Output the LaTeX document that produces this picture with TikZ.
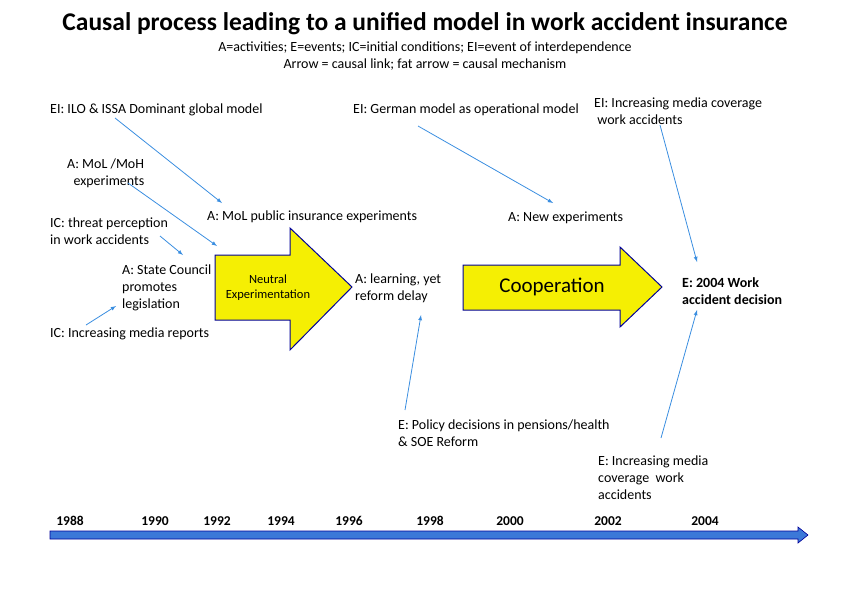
\documentclass[tikz,border=0pt]{standalone}
\usepackage{fontspec}
\setmainfont{Carlito}
\definecolor{lnk}{HTML}{3A8EE0}
\definecolor{tl}{HTML}{3C78D8}
\begin{document}
\begin{tikzpicture}[x=1pt,y=-1pt,
 t/.style={anchor=west,font=\fontsize{14}{17}\selectfont,align=left,inner sep=0},
 la/.style={-latex,draw=lnk,line width=0.8pt},
 yr/.style={font=\fontsize{13.5}{15}\selectfont\bfseries,inner sep=0},
 fat/.style={fill=yellow!85!lime,draw=blue!60!black,line width=1pt}]
\useasboundingbox (0,0) rectangle (850,590);
\node[font=\fontsize{25.5}{28}\selectfont\bfseries] (title) at (425,24) {Causal process leading to a unified model in work accident insurance};
\node[font=\fontsize{14}{16}\selectfont] (s1) at (425,48) {A=activities; E=events; IC=initial conditions; EI=event of interdependence};
\node[font=\fontsize{14}{16}\selectfont] (s2) at (425,65) {Arrow = causal link; fat arrow = causal mechanism};
% fat arrows
\draw[fat] (215,255) -- (290,255) -- (290,228) -- (352,287) -- (290,350) -- (290,320) -- (215,320) -- cycle;
\draw[fat] (463,265) -- (620,265) -- (620,247) -- (662,287) -- (620,327) -- (620,310) -- (463,310) -- cycle;
\node[font=\fontsize{12.5}{15}\selectfont,align=center] (neu) at (268,288) {Neutral\\Experimentation};
\node[font=\fontsize{21}{24}\selectfont] (coop) at (552,287) {Cooperation};
% texts
\node[t] (ilo) at (50,110) {EI: ILO \& ISSA Dominant global model};
\node[t] (mol) at (67,173) {A: MoL /MoH\\\ \ experiments};
\node[t] (ic1) at (50,231) {IC: threat perception\\in work accidents};
\node[t] (sc) at (122,288) {A: State Council\\promotes\\legislation};
\node[t] (ic2) at (50,334) {IC: Increasing media reports};
\node[t] (molp) at (207,217) {A: MoL public insurance experiments};
\node[t] (learn) at (355,288) {A: learning, yet\\reform delay};
\node[t] (ger) at (353,110) {EI: German model as operational model};
\node[t] (eim) at (594,111) {EI: Increasing media coverage\\\ work accidents};
\node[t] (newx) at (508,218) {A: New experiments};
\node[t,font=\fontsize{14}{17}\selectfont\bfseries] (dec) at (682,291) {E: 2004 Work\\accident decision};
\node[t] (pol) at (398,433) {E: Policy decisions in pensions/health\\\& SOE Reform};
\node[t] (emc) at (598,478) {E: Increasing media\\coverage\ \ work\\accidents};
% coordinates for links
\coordinate (a1s) at (115,118); \coordinate (a1e) at (222,203);
\coordinate (a2s) at (128,183); \coordinate (a2e) at (217,246);
\coordinate (a3s) at (160,236); \coordinate (a3e) at (183,255);
\coordinate (a4s) at (86,325); \coordinate (a4e) at (116,306);
\coordinate (a5s) at (418,126); \coordinate (a5e) at (553,203);
\coordinate (a6s) at (660,125); \coordinate (a6e) at (697,262);
\coordinate (a7s) at (405,410); \coordinate (a7e) at (421,315);
\coordinate (a8s) at (661,438); \coordinate (a8e) at (697,310);
\foreach \i in {1,...,8} \draw[la] (a\i s) -- (a\i e);
% timeline
\fill[tl,draw=blue!60!black,line width=0.6pt] (50,531) -- (798,531) -- (798,527) -- (808,535) -- (798,543) -- (798,539) -- (50,539) -- cycle;
\node[yr] (y88) at (70,521) {1988};
\node[yr] (y90) at (155,521) {1990};
\node[yr] (y92) at (217,521) {1992};
\node[yr] (y94) at (281,521) {1994};
\node[yr] (y96) at (349,521) {1996};
\node[yr] (y98) at (430,521) {1998};
\node[yr] (y00) at (510,521) {2000};
\node[yr] (y02) at (608,521) {2002};
\node[yr] (y04) at (705,521) {2004};
\end{tikzpicture}
\end{document}
